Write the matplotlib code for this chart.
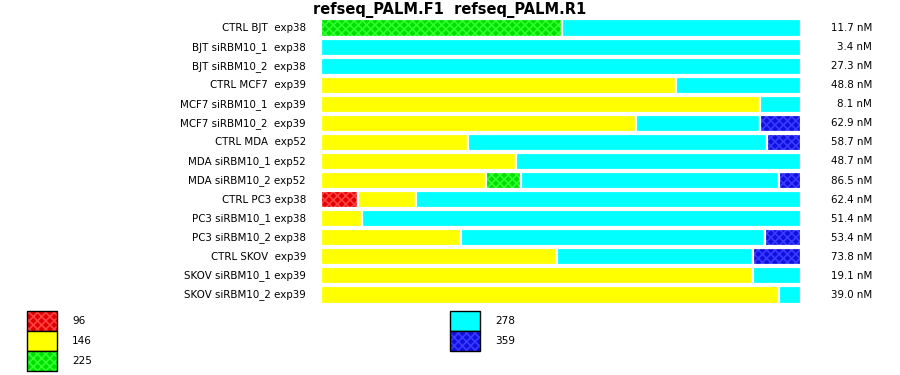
import matplotlib
matplotlib.use("Agg")
import matplotlib.pyplot as plt
from matplotlib.patches import Rectangle
import numpy as np

plt.rcParams['font.family'] = ['DejaVu Sans']
plt.rcParams['hatch.linewidth'] = 1.2

title = "refseq_PALM.F1  refseq_PALM.R1"
samples = [
    "CTRL BJT  exp38", "BJT siRBM10_1  exp38", "BJT siRBM10_2  exp38",
    "CTRL MCF7  exp39", "MCF7 siRBM10_1  exp39", "MCF7 siRBM10_2  exp39",
    "CTRL MDA  exp52", "MDA siRBM10_1 exp52", "MDA siRBM10_2 exp52",
    "CTRL PC3 exp38", "PC3 siRBM10_1 exp38", "PC3 siRBM10_2 exp38",
    "CTRL SKOV  exp39", "SKOV siRBM10_1 exp39", "SKOV siRBM10_2 exp39",
]
concentrations = ["11.7 nM", "3.4 nM", "27.3 nM", "48.8 nM", "8.1 nM", "62.9 nM",
                  "58.7 nM", "48.7 nM", "86.5 nM", "62.4 nM", "51.4 nM", "53.4 nM",
                  "73.8 nM", "19.1 nM", "39.0 nM"]
sizes = ["96", "146", "225", "278", "359"]
# fractions per size (rows follow samples)
frac_96  = [0, 0, 0, 0, 0, 0, 0, 0, 0, 0.077, 0, 0, 0, 0, 0]
frac_146 = [0, 0, 0, 0.740, 0.915, 0.656, 0.306, 0.406, 0.344, 0.121, 0.085, 0.292, 0.492, 0.900, 0.954]
frac_225 = [0.502, 0, 0, 0, 0, 0, 0, 0, 0.073, 0, 0, 0, 0, 0, 0]
frac_278 = [0.498, 1.0, 1.0, 0.260, 0.085, 0.258, 0.624, 0.594, 0.537, 0.802, 0.915, 0.633, 0.408, 0.100, 0.046]
frac_359 = [0, 0, 0, 0, 0, 0.086, 0.070, 0, 0.046, 0, 0, 0.075, 0.100, 0, 0]

series = [frac_96, frac_146, frac_225, frac_278, frac_359]
hatch_colors = ["#ff4040", None, "#30ff30", None, "#3a3aff"]
face_colors = ["#e00000", "#ffff00", "#00e000", "#00ffff", "#1010e0"]
HATCH = 'xxxx'

fig = plt.figure(figsize=(9, 3.75), dpi=100)
ax = fig.add_axes([321/900, 1 - 304.5/375, 480/900, 286/375])
n = len(samples)
y = np.arange(n)
left = np.zeros(n)
for vals, fc, hc in zip(series, face_colors, hatch_colors):
    vals = np.array(vals, dtype=float)
    mask = vals > 0
    if hc is not None:
        ax.barh(y[mask], vals[mask], left=left[mask], height=0.9, color=fc,
                hatch=HATCH, edgecolor=hc, linewidth=0)
    else:
        ax.barh(y[mask], vals[mask], left=left[mask], height=0.9, color=fc, linewidth=0)
    ax.barh(y[mask], vals[mask], left=left[mask], height=0.9, facecolor='none',
            edgecolor='white', linewidth=1.6)
    left += vals

ax.set_xlim(0, 1)
ax.set_ylim(n - 0.5, -0.5)
ax.axis('off')

for i in range(n):
    ax.text(-15/480, y[i], samples[i], ha='right', va='center', fontsize=7.4)
    ax.text(1 + 71/480, y[i], concentrations[i], ha='right', va='center', fontsize=7.4)

fig.text(450/900, 1 - 10/375, title, ha='center', va='center', fontsize=10.5, fontweight='bold')

# legend
leg_pos = [(27, 311), (27, 331), (27, 351), (450, 311), (450, 331)]
for s, fc, hc, (lx, ly) in zip(sizes, face_colors, hatch_colors, leg_pos):
    r = Rectangle((lx/900, 1 - (ly + 20)/375), 30/900, 20/375, transform=fig.transFigure,
                  facecolor=fc, edgecolor=hc if hc else 'none', hatch=HATCH if hc else None,
                  linewidth=0)
    fig.patches.append(r)
    r2 = Rectangle((lx/900, 1 - (ly + 20)/375), 30/900, 20/375, transform=fig.transFigure,
                   facecolor='none', edgecolor='black', linewidth=1.0)
    fig.patches.append(r2)
    fig.text((lx + 45)/900, 1 - (ly + 10)/375, s, ha='left', va='center', fontsize=7.6)

fig.savefig("out.png", dpi=100)
